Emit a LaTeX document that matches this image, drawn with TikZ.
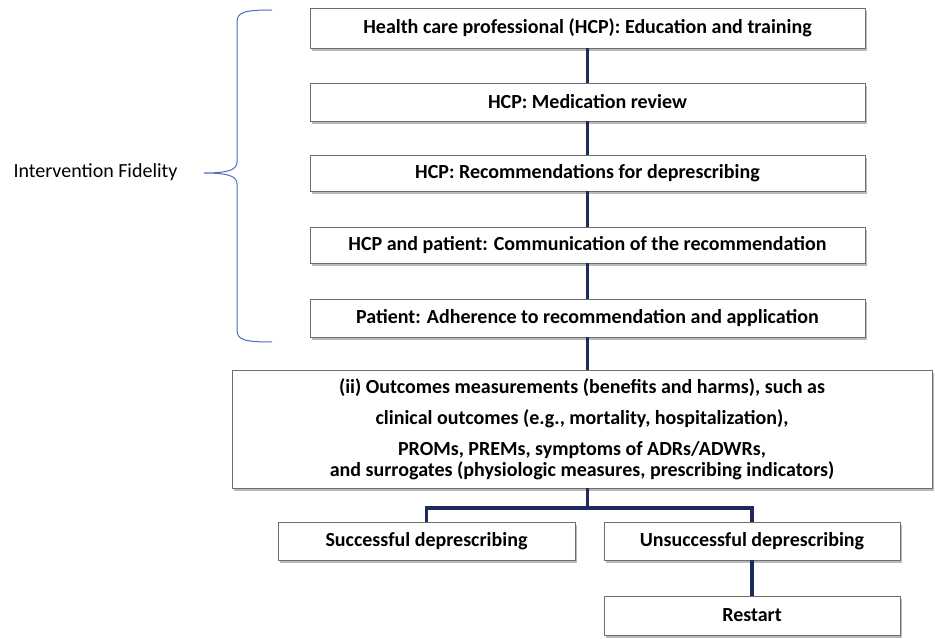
\documentclass[tikz,border=0pt]{standalone}
\usepackage{fontspec}
\setmainfont{Carlito}
\usetikzlibrary{shadows}
\definecolor{navy}{HTML}{1F2B5C}
\definecolor{braceblue}{HTML}{4A6FC0}
\definecolor{boxedge}{HTML}{6E6E6E}
\tikzset{
  stepbox/.style={draw=boxedge, line width=0.9pt, fill=white, inner sep=0pt,
    drop shadow={shadow xshift=2pt, shadow yshift=-3pt, fill=black!45, opacity=0.6},
    font=\bfseries\fontsize{20}{21}\selectfont, align=center},
  conn/.style={draw=navy, line width=3.5pt},
}
\begin{document}
\begin{tikzpicture}[x=1pt,y=-1pt]
\useasboundingbox (0,0) rectangle (935,639);
% boxes
\node[stepbox, minimum width=555pt, minimum height=40pt] (b1) at (587.5,28) {Health care professional (HCP): Education and training};
\node[stepbox, minimum width=555pt, minimum height=38pt] (b2) at (587.5,102) {HCP: Medication review};
\node[stepbox, minimum width=555pt, minimum height=36pt] (b3) at (587.5,173) {HCP: Recommendations for deprescribing};
\node[stepbox, minimum width=555pt, minimum height=36pt] (b4) at (587.5,245) {HCP and patient: Communication of the recommendation};
\node[stepbox, minimum width=555pt, minimum height=38pt] (b5) at (587.5,318) {Patient: Adherence to recommendation and application};
\node[stepbox, minimum width=700pt, minimum height=118pt] (b6) at (582,429) {(ii) Outcomes measurements (benefits and harms), such as\\[10pt]
clinical outcomes (e.g., mortality, hospitalization),\\[10pt]
PROMs, PREMs, symptoms of ADRs/ADWRs,\\
and surrogates (physiologic measures, prescribing indicators)};
\node[stepbox, minimum width=297pt, minimum height=38pt] (b7) at (426.5,541) {Successful deprescribing};
\node[stepbox, minimum width=296pt, minimum height=38pt] (b8) at (752,541) {Unsuccessful deprescribing};
\node[stepbox, minimum width=296pt, minimum height=39pt] (b9) at (752,615.5) {Restart};
% connectors
\draw[conn] (b1.south) -- (b2.north);
\draw[conn] (b2.south) -- (b3.north);
\draw[conn] (b3.south) -- (b4.north);
\draw[conn] (b4.south) -- (b5.north);
\draw[conn] (b5.south) -- (b5.south |- b6.north);
\coordinate (split) at (587.5,508);
\draw[conn] (split |- b6.south) -- (split);
\draw[conn, line join=miter] (b7.north) |- (split) -| (b8.north);
\draw[conn] (b8.south) -- (b9.north);
% brace
\coordinate (btop) at (272,10);
\coordinate (bbot) at (272,342);
\coordinate (btip) at (204,173);
\draw[braceblue, line width=1pt]
  (btop) .. controls (245,10) and (237,12) .. (237,22)
  -- (237,162) .. controls (237,170) and (228,173) .. (btip)
  .. controls (228,173) and (237,176) .. (237,184)
  -- (237,330) .. controls (237,340) and (245,342) .. (bbot);
\node[font=\fontsize{20}{22}\selectfont, anchor=west] (fid) at (10,172) {Intervention Fidelity};
\end{tikzpicture}
\end{document}
